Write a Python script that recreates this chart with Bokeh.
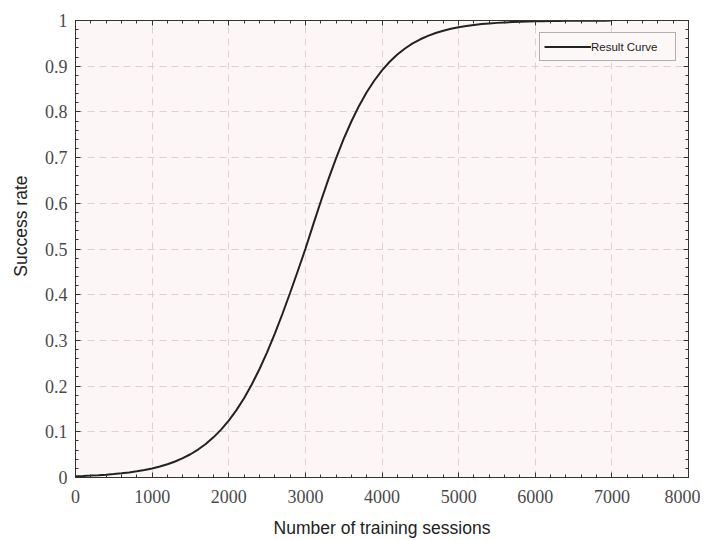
from bokeh.plotting import figure
from bokeh.models import (FixedTicker, LinearAxis, Range1d, Legend, LegendItem,
                          CustomLabelingPolicy, Title)
from bokeh.embed import file_html
from bokeh.resources import INLINE

# data
sessions = [0, 100, 200, 300, 400, 500, 600, 700, 800, 900,
            1000, 1100, 1200, 1300, 1400, 1500, 1600, 1700, 1800, 1900,
            2000, 2100, 2200, 2300, 2400, 2500, 2600, 2700, 2800, 2900,
            3000, 3100, 3200, 3300, 3400, 3500, 3600, 3700, 3800, 3900,
            4000, 4100, 4200, 4300, 4400, 4500, 4600, 4700, 4800, 4900,
            5000, 5100, 5200, 5300, 5400, 5500, 5600, 5700, 5800, 5900,
            6000, 6100, 6200, 6300, 6400, 6500, 6600, 6700, 6800, 6900, 7000]
success_rate = [0.0029, 0.0035, 0.0042, 0.0051, 0.0062, 0.0076, 0.0092, 0.0111, 0.0135, 0.0164,
                0.0198, 0.0240, 0.0290, 0.0351, 0.0423, 0.0509, 0.0612, 0.0734, 0.0879, 0.1048,
                0.1245, 0.1474, 0.1736, 0.2035, 0.2368, 0.2739, 0.3144, 0.3578, 0.4037, 0.4514,
                0.5000, 0.5523, 0.6035, 0.6525, 0.6985, 0.7408, 0.7790, 0.8131, 0.8429, 0.8687,
                0.8909, 0.9097, 0.9255, 0.9388, 0.9498, 0.9589, 0.9664, 0.9726, 0.9777, 0.9818,
                0.9852, 0.9880, 0.9902, 0.9921, 0.9936, 0.9948, 0.9958, 0.9966, 0.9972, 0.9977,
                0.9982, 0.9985, 0.9988, 0.9990, 0.9992, 0.9994, 0.9995, 0.9996, 0.9997, 0.9997, 0.9998]

x_ticks = [0, 1000, 2000, 3000, 4000, 5000, 6000, 7000, 8000]
x_tick_labels = ["0", "1000", "2000", "3000", "4000", "5000", "6000", "7000", "8000"]
y_ticks = [0, 0.1, 0.2, 0.3, 0.4, 0.5, 0.6, 0.7, 0.8, 0.9, 1]
y_tick_labels = ["0", "0.1", "0.2", "0.3", "0.4", "0.5", "0.6", "0.7", "0.8", "0.9", "1"]
x_title = "Number of training sessions"
y_title = "Success rate"
series_name = "Result Curve"

x_minor = [i * 200 for i in range(41)]
y_minor = [round(i * 0.02, 2) for i in range(51)]

FONT_SERIF = "Liberation Serif"
FONT_SANS = "Liberation Sans"

p = figure(width=700, height=540, output_backend="svg", toolbar_location=None,
           x_range=Range1d(0, 8000), y_range=Range1d(0, 1),
           min_border_left=75, min_border_right=12, min_border_top=20, min_border_bottom=63,
           background_fill_color="#fdf6f6", border_fill_color="white")
p.outline_line_color = "#333333"

xt = FixedTicker(ticks=x_ticks, minor_ticks=x_minor)
yt = FixedTicker(ticks=y_ticks, minor_ticks=y_minor)

no_labels = CustomLabelingPolicy(code="""
const all = Array.from(indices)
for (const i of all) {
  if (indices.unset) indices.unset(i); else indices.set(i, false)
}
return indices
""")


def style_axis(ax, size="18px"):
    ax.axis_line_color = "#333333"
    ax.major_tick_line_color = "#333333"
    ax.minor_tick_line_color = "#333333"
    ax.major_tick_in = 5
    ax.major_tick_out = 0
    ax.minor_tick_in = 3
    ax.minor_tick_out = 0
    ax.major_label_text_font = FONT_SERIF
    ax.major_label_text_color = "#4a4a4a"
    ax.major_label_text_font_size = size
    ax.axis_label_text_font = FONT_SANS
    ax.axis_label_text_font_style = "normal"
    ax.axis_label_text_font_size = "17.5px"
    ax.axis_label_text_color = "#222222"


xa = p.xaxis[0]
xa.ticker = xt
xa.major_label_overrides = dict(zip(x_ticks, x_tick_labels))
style_axis(xa)
xa.axis_label = x_title
xa.major_label_standoff = 12
xa.axis_label_standoff = 12

ya = p.yaxis[0]
ya.ticker = yt
ya.major_label_overrides = dict(zip(y_ticks, y_tick_labels))
style_axis(ya)
ya.major_label_standoff = 8

top = LinearAxis(ticker=xt, major_label_standoff=0, major_label_policy=no_labels)
style_axis(top, size="1px")
p.add_layout(top, "above")
right = LinearAxis(ticker=yt, major_label_standoff=0, major_label_policy=no_labels)
style_axis(right, size="1px")
p.add_layout(right, "right")

ytitle = Title(text=y_title, align="right", offset=155, vertical_align="top",
               standoff=18, text_font=FONT_SANS, text_font_size="17.5px",
               text_font_style="normal", text_color="#222222")
p.add_layout(ytitle, "left")

for g, t in ((p.xgrid[0], xt), (p.ygrid[0], yt)):
    g.ticker = t
    g.grid_line_color = "#dcd2d2"
    g.grid_line_dash = "7 5"
    g.grid_line_width = 1

r = p.line(sessions, success_rate, line_color="#222222", line_width=2)

legend = Legend(items=[LegendItem(label=series_name, renderers=[r])],
                location="top_right", margin=12, padding=4, spacing=0,
                glyph_width=47, glyph_height=19, label_height=19, label_width=80,
                label_standoff=0, label_text_font=FONT_SANS, label_text_font_size="11.5px",
                label_text_color="#222222", border_line_color="#666666",
                background_fill_color="#fdf8f8", background_fill_alpha=1)
p.add_layout(legend)

open("out.html", "w").write(file_html(p, INLINE))
